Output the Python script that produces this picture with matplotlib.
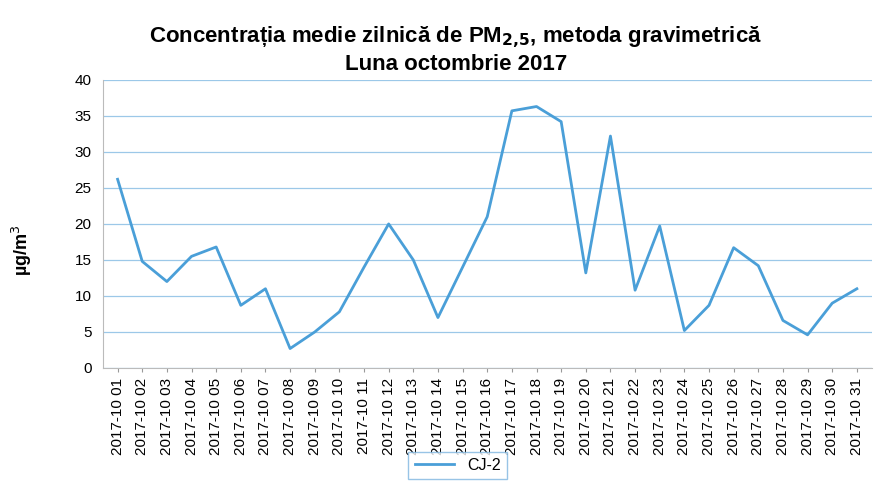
import matplotlib
matplotlib.use("Agg")
import matplotlib.pyplot as plt

plt.rcParams["font.family"] = ["Liberation Sans", "DejaVu Sans"]

days = ["2017-10 %02d" % d for d in range(1, 32)]
cj2 = [26.2, 14.8, 12.0, 15.5, 16.8, 8.7, 11.0, 2.7, 5.0, 7.8,
       14.0, 20.0, 15.0, 7.0, 14.0, 21.0, 35.7, 36.3, 34.2, 13.2,
       32.2, 10.8, 19.7, 5.2, 8.7, 16.7, 14.2, 6.6, 4.6, 9.0, 11.0]
yticks = [0, 5, 10, 15, 20, 25, 30, 35, 40]

fig = plt.figure(figsize=(8.94, 4.90), dpi=100)
ax = fig.add_axes([0.115, 0.249, 0.86, 0.588])

x = list(range(len(days)))
ax.plot(x, cj2, color="#4a9fd8", lw=2, label="CJ-2")

ax.set_xlim(-0.6, len(days) - 0.4)
ax.set_ylim(0, 40)
ax.set_yticks(yticks)
ax.set_xticks(x)
ax.set_xticklabels(days, rotation=90, fontsize=11)
ax.tick_params(axis="y", labelsize=11, length=0, pad=8)
ax.tick_params(axis="x", length=3, color="#999999", pad=4)
ax.grid(axis="y", color="#9cc8e8", lw=0.9)
ax.set_axisbelow(True)
for s in ["top", "right"]:
    ax.spines[s].set_visible(False)
ax.spines["left"].set_color("#bbbbbb")
ax.spines["bottom"].set_color("#bbbbbb")

ax.set_ylabel("µg/m$^3$", fontsize=13, fontweight="bold")
ax.yaxis.set_label_coords(-0.09, 0.41)

fig.text(0.51, 0.923, "Concentrația medie zilnică de PM$_{\\mathbf{2{,}5}}$, metoda gravimetrică",
         ha="center", va="center", fontsize=16, fontweight="bold")
fig.text(0.51, 0.868, "Luna octombrie 2017", ha="center", va="center",
         fontsize=16, fontweight="bold")

leg = fig.legend(loc="center", bbox_to_anchor=(0.512, 0.05), fontsize=11.5,
                 frameon=True, fancybox=False, handlelength=2.5)
leg.get_frame().set_edgecolor("#7fb6e0")

fig.savefig("out.png", dpi=100)
